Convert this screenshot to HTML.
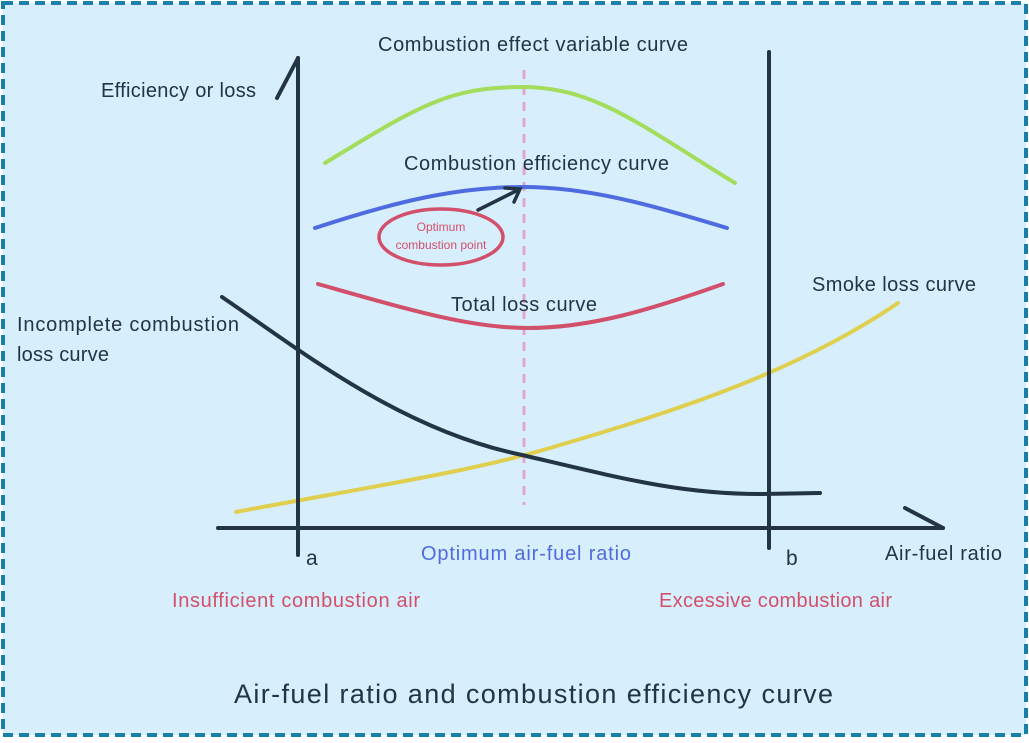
<!DOCTYPE html>
<html><head><style>
body{margin:0;width:1029px;height:738px;overflow:hidden;background:#fff}
svg text{font-family:"Liberation Sans",sans-serif}
</style></head><body>
<svg width="1029" height="738" xmlns="http://www.w3.org/2000/svg">
<rect x="3" y="3" width="1023" height="732" fill="#d7eefc" stroke="#1a7fa8" stroke-width="4" stroke-dasharray="10,6"/>
<line x1="524" y1="70" x2="524" y2="505" stroke="#e0a6d2" stroke-width="3" stroke-dasharray="9,7"/>
<g fill="none" stroke-linecap="round" stroke-width="4">
<path d="M325,163 C420,105 450,87 522,87 C595,87 640,125 735,183" stroke="#a4dc5c"/>
<path d="M315,228 C400,200 460,187 522,187 C590,187 650,205 727,228" stroke="#4f6be0"/>
<path d="M318,284 C410,310 470,328 528,328 C590,328 650,310 723,284" stroke="#d2506a"/>
<path d="M236,512 C380,485 480,470 560,445 C680,410 800,370 898,303" stroke="#e0cf4e"/>
<path d="M222,297 C300,350 400,430 522,455 C620,478 680,494 760,494 L820,493" stroke="#233444"/>
<line x1="298" y1="58" x2="298" y2="555" stroke="#233444"/>
<line x1="298" y1="58" x2="277" y2="98" stroke="#233444"/>
<line x1="769" y1="52" x2="769" y2="548" stroke="#233444"/>
<line x1="218" y1="528" x2="943" y2="528" stroke="#233444"/>
<line x1="905" y1="508" x2="943" y2="528" stroke="#233444"/>
<line x1="478" y1="210" x2="518" y2="190" stroke="#233444" stroke-width="3.5"/>
<path d="M505,188 L520,189 L514,202" stroke="#233444" stroke-width="3.5"/>
<ellipse cx="441" cy="237" rx="62" ry="28" stroke="#d2506a" stroke-width="3.5"/>
</g>
<g font-size="20" fill="#233444" lengthAdjust="spacingAndGlyphs">
<text x="378" y="51" textLength="310">Combustion effect variable curve</text>
<text x="101" y="97" textLength="155">Efficiency or loss</text>
<text x="404" y="170" textLength="265">Combustion efficiency curve</text>
<text x="451" y="311" textLength="146">Total loss curve</text>
<text x="812" y="291" textLength="164">Smoke loss curve</text>
<text x="17" y="331" textLength="222">Incomplete combustion</text>
<text x="17" y="361" textLength="92">loss curve</text>
<text x="885" y="560" textLength="117">Air-fuel ratio</text>
<text x="306" y="565" font-size="21">a</text>
<text x="786" y="565" font-size="21">b</text>
</g>
<text x="421" y="560" font-size="20" fill="#4f6be0" textLength="210">Optimum air-fuel ratio</text>
<text x="172" y="607" font-size="20" fill="#d2506a" textLength="248">Insufficient combustion air</text>
<text x="659" y="607" font-size="20" fill="#d2506a" textLength="233">Excessive combustion air</text>
<text x="441" y="231" font-size="12" fill="#d2506a" text-anchor="middle">Optimum</text>
<text x="441" y="249" font-size="12" fill="#d2506a" text-anchor="middle">combustion point</text>
<text x="234" y="703" font-size="27" fill="#233444" textLength="599">Air-fuel ratio and combustion efficiency curve</text>
</svg>
</body></html>
